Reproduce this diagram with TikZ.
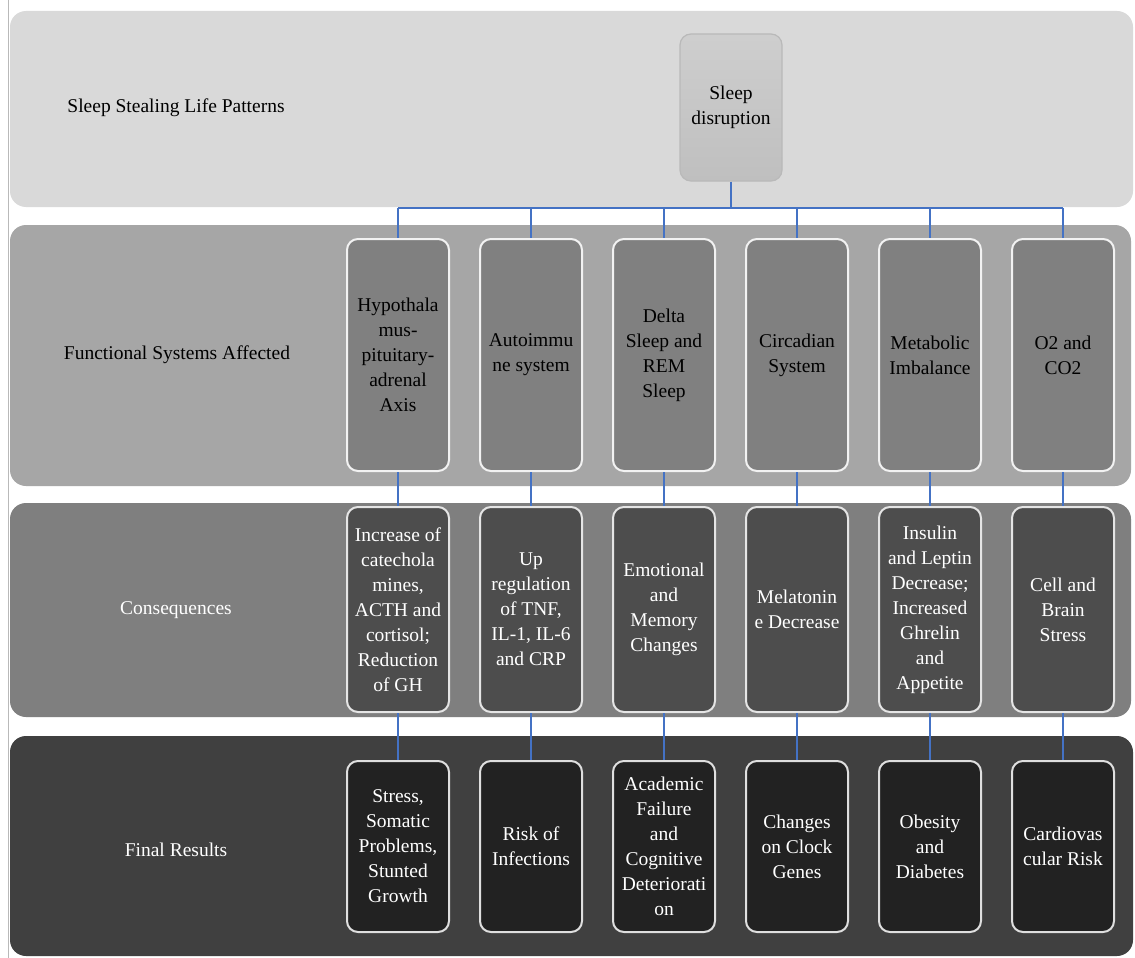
\documentclass[tikz,border=0pt]{standalone}
\usepackage{fontspec}
\setmainfont{Liberation Serif}
\newcommand\dgfont{\fontsize{19.5}{25}\selectfont}
\definecolor{bandA}{HTML}{D9D9D9}
\definecolor{bandB}{HTML}{A6A6A6}
\definecolor{bandC}{HTML}{7F7F7F}
\definecolor{bandD}{HTML}{404040}
\definecolor{boxB}{HTML}{808080}
\definecolor{boxC}{HTML}{4D4D4D}
\definecolor{boxD}{HTML}{222222}
\definecolor{connblue}{HTML}{4472C4}
\begin{document}
\begin{tikzpicture}[x=1pt,y=-1pt,
  every node/.style={font=\dgfont, align=center, inner sep=0pt},
  band/.style={rounded corners=16pt},
  cardbase/.style={draw, rounded corners=11pt, line width=2pt, minimum width=102pt},
  cardB/.style={cardbase, fill=boxB, draw=white!90!gray, text=black, minimum height=232pt},
  cardC/.style={cardbase, fill=boxC, draw=white!80!gray, text=white, minimum height=205pt},
  cardD/.style={cardbase, fill=boxD, draw=white!75!gray, text=white, minimum height=171pt},
  rowlabel/.style={text=black},
  conn/.style={draw=connblue, line width=1.4pt}
]
\useasboundingbox (0,0) rectangle (1135,958);
\fill[white] (0,0) rectangle (1135,958);
% bands
\fill[bandA, band] (10,11) rectangle (1133,207);
\fill[bandB, band] (10,225) rectangle (1131,486);
\fill[bandC, band] (10,503) rectangle (1131,717);
\fill[bandD, band] (10,736) rectangle (1133,956);
\draw[gray!55, line width=0.8pt] (8,0) -- (8,958);

% row labels
\node[rowlabel] (l1) at (176,108) {Sleep Stealing Life Patterns};
\node[rowlabel] (l2) at (177,355) {Functional Systems Affected};
\node[rowlabel, text=white] (l3) at (176,610) {Consequences};
\node[rowlabel, text=white] (l4) at (176,850) {Final Results};

% top box
\node[draw=gray!55, line width=1.2pt, rounded corners=11pt, minimum width=102pt, minimum height=147pt,
      top color=bandA!95!black, bottom color=bandA!88!black] (sd) at (731,107.5) {Sleep\\disruption};

% row 2
\node[cardB] (h1) at (398,355) {Hypothala\\mus-\\pituitary-\\adrenal\\Axis};
\node[cardB] (h2) at (531,355) {Autoimmu\\ne system};
\node[cardB] (h3) at (664,355) {Delta\\Sleep and\\REM\\Sleep};
\node[cardB] (h4) at (797,355) {Circadian\\System};
\node[cardB] (h5) at (930,355) {Metabolic\\Imbalance};
\node[cardB] (h6) at (1063,355) {O2 and\\CO2};

% row 3
\node[cardC] (c1) at (398,609.5) {Increase of\\catechola\\mines,\\ACTH and\\cortisol;\\Reduction\\of GH};
\node[cardC] (c2) at (531,609.5) {Up\\regulation\\of TNF,\\IL-1, IL-6\\and CRP};
\node[cardC] (c3) at (664,609.5) {Emotional\\and\\Memory\\Changes};
\node[cardC] (c4) at (797,609.5) {Melatonin\\e Decrease};
\node[cardC] (c5) at (930,609.5) {Insulin\\and Leptin\\Decrease;\\Increased\\Ghrelin\\and\\Appetite};
\node[cardC] (c6) at (1063,609.5) {Cell and\\Brain\\Stress};

% row 4
\node[cardD] (r1) at (398,846.5) {Stress,\\Somatic\\Problems,\\Stunted\\Growth};
\node[cardD] (r2) at (531,846.5) {Risk of\\Infections};
\node[cardD] (r3) at (664,846.5) {Academic\\Failure\\and\\Cognitive\\Deteriorati\\on};
\node[cardD] (r4) at (797,846.5) {Changes\\on Clock\\Genes};
\node[cardD] (r5) at (930,846.5) {Obesity\\and\\Diabetes};
\node[cardD] (r6) at (1063,846.5) {Cardiovas\\cular Risk};

% connectors
\coordinate (bus) at (731,208);
\draw[conn] (sd.south) -- (sd.south |- bus);
\draw[conn] (h1.north |- bus) -- (h6.north |- bus);
\foreach \i in {1,...,6} {
  \draw[conn] (h\i.north |- bus) -- (h\i.north);
  \draw[conn] (h\i.south) -- (c\i.north);
  \draw[conn] (c\i.south) -- (r\i.north);
}
\end{tikzpicture}
\end{document}
